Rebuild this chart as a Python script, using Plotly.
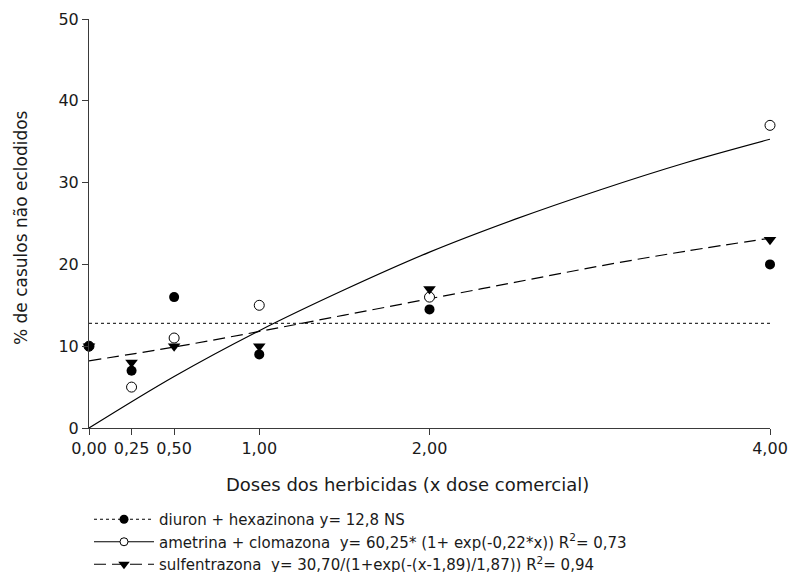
import plotly.graph_objects as go

# ---- data ----
doses = [0, 0.25, 0.5, 1, 2, 4]
dose_labels = ["0,00", "0,25", "0,50", "1,00", "2,00", "4,00"]
diuron = [10, 7, 16, 9, 14.5, 20]
ametrina = [10, 5, 11, 15, 16, 37]
sulfentrazona = [10, 8, 10, 10, 17, 23]

# fitted curves
fit_x = [0, 0.5, 1, 1.5, 2, 2.5, 3, 3.5, 4]
fit_ametrina = [0, 6.3, 11.9, 16.9, 21.5, 25.5, 29.1, 32.4, 35.3]
fit_sulfentrazona = [8.2, 9.9, 11.8, 13.8, 15.8, 17.8, 19.8, 21.6, 23.2]
diuron_x = [0, 4]
diuron_mean = [12.8, 12.8]

y_ticks = [0, 10, 20, 30, 40, 50]

legend_names = [
    "diuron + hexazinona y= 12,8 NS",
    "ametrina + clomazona \u00a0y= 60,25* (1+ exp(-0,22*x)) R<sup>2</sup>= 0,73",
    "sulfentrazona \u00a0y= 30,70/(1+exp(-(x-1,89)/1,87)) R<sup>2</sup>= 0,94",
]

FONT = "DejaVu Sans, Liberation Sans, Arial, sans-serif"
INK = "#000000"
TXT = "#1a1a1a"
AX = "#3a3a3a"

fig = go.Figure()

# fitted lines
fig.add_trace(go.Scatter(x=diuron_x, y=diuron_mean, mode="lines",
                         line=dict(color=INK, width=1, dash="dot"),
                         showlegend=False, hoverinfo="skip"))
fig.add_trace(go.Scatter(x=fit_x, y=fit_ametrina, mode="lines", line_shape="spline",
                         line=dict(color=INK, width=1.2),
                         showlegend=False, hoverinfo="skip"))
fig.add_trace(go.Scatter(x=fit_x, y=fit_sulfentrazona, mode="lines", line_shape="spline",
                         line=dict(color=INK, width=1.2, dash="12px,6px"),
                         showlegend=False, hoverinfo="skip"))

# observed points
fig.add_trace(go.Scatter(x=doses, y=ametrina, mode="markers", cliponaxis=False,
                         marker=dict(symbol="circle", size=10, color="white",
                                     line=dict(color=INK, width=1)),
                         showlegend=False))
fig.add_trace(go.Scatter(x=doses, y=diuron, mode="markers", cliponaxis=False,
                         marker=dict(symbol="circle", size=10, color=INK,
                                     line=dict(color=INK, width=0)),
                         showlegend=False))
fig.add_trace(go.Scatter(x=doses, y=sulfentrazona, mode="markers", cliponaxis=False,
                         marker=dict(symbol="triangle-down", size=11, color=INK,
                                     line=dict(color=INK, width=0)),
                         showlegend=False))

# legend entries (line + marker symbol)
fig.add_trace(go.Scatter(x=[None], y=[None], mode="lines+markers", name=legend_names[0],
                         line=dict(color=INK, width=1, dash="dot"),
                         marker=dict(symbol="circle", size=9, color=INK)))
fig.add_trace(go.Scatter(x=[None], y=[None], mode="lines+markers", name=legend_names[1],
                         line=dict(color=INK, width=1.2),
                         marker=dict(symbol="circle", size=8, color="white",
                                     line=dict(color=INK, width=1))))
fig.add_trace(go.Scatter(x=[None], y=[None], mode="lines+markers", name=legend_names[2],
                         line=dict(color=INK, width=1.2, dash="12px,6px"),
                         marker=dict(symbol="triangle-down", size=10, color=INK)))

L, R, T, B = 89, 19, 19, 144
W, H = 789, 572
pw, ph = W - L - R, H - T - B

def px_x(p):
    return (p - L) / pw

def px_y(p):
    return (H - B - p) / ph

fig.update_layout(
    width=W, height=H,
    margin=dict(l=L, r=R, t=T, b=B, autoexpand=False),
    paper_bgcolor="white", plot_bgcolor="white",
    font=dict(family=FONT, size=16, color=TXT),
    xaxis=dict(range=[0, 4], tickvals=doses, ticktext=dose_labels,
               showline=True, linecolor=AX, linewidth=1,
               ticks="outside", ticklen=6, tickcolor=AX, tickwidth=1,
               showgrid=False, zeroline=False,
               tickfont=dict(family=FONT, size=16, color=TXT)),
    yaxis=dict(range=[0, 50], tickvals=y_ticks,
               showline=True, linecolor=AX, linewidth=1,
               ticks="outside", ticklen=6, tickcolor=AX, tickwidth=1,
               showgrid=False, zeroline=False,
               tickfont=dict(family=FONT, size=16, color=TXT)),
    legend=dict(x=px_x(89), y=px_y(503), xanchor="left", yanchor="top",
                bgcolor="rgba(0,0,0,0)", itemwidth=60,
                font=dict(family=FONT, size=15, color=TXT),
                tracegroupgap=0),
    showlegend=True,
    annotations=[
        dict(text="Doses dos herbicidas (x dose comercial)", xref="paper", yref="paper",
             x=px_x(407), y=px_y(484), xanchor="center", yanchor="middle",
             showarrow=False, font=dict(family=FONT, size=18, color=TXT)),
        dict(text="% de casulos não eclodidos", xref="paper", yref="paper",
             x=px_x(21), y=px_y(228), xanchor="center", yanchor="middle",
             showarrow=False, textangle=-90,
             font=dict(family=FONT, size=17, color=TXT)),
    ],
)

fig.write_html("out.html")
